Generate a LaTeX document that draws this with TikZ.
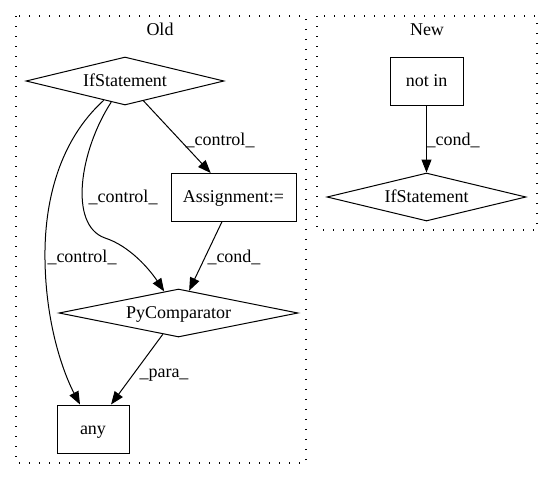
\documentclass[tikz,border=0pt]{standalone}
\usepackage{fontspec}
\setmainfont{Liberation Serif}
\usetikzlibrary{arrows.meta,shapes.geometric}
\tikzset{>={Triangle[length=13pt,width=10pt]}}
\tikzset{
  box/.style={draw,rectangle,line width=1pt,minimum height=48pt,inner sep=2pt,text height=13pt,text depth=3pt},
  cond/.style={draw,diamond,aspect=4,line width=1pt,minimum height=48pt,inner sep=1pt,text height=13pt,text depth=3pt},
  lbl/.style={anchor=base,inner sep=0pt},
  cluster/.style={line width=1.2pt,dash pattern=on 1.4pt off 8.6pt},
  flow/.style={->,line width=1pt}
}

\begin{document}
\begin{tikzpicture}[x=1pt,y=-1pt,font=\fontsize{18}{20}\selectfont]
    \useasboundingbox (0,0) rectangle (552,480);
    % clusters
    \draw[cluster] (16,16) rectangle (306,463);
    \draw[cluster] (317,16) rectangle (537,230);
    \node[lbl] (told) at (160,35) {Old};
    \node[lbl] (tnew) at (427,35) {New};
    % old
    \node[cond,minimum width=198pt] (ifold) at (125,81) {IfStatement};
    \node[box,minimum width=125pt] (assign) at (233.5,197.5) {Assignment:=};
    \node[cond,minimum width=239pt] (pycomp) at (178.5,313) {PyComparator};
    \node[box,minimum width=72pt] (any) at (93,429) {any};
    \draw[flow] (ifold) -- (assign);
    \draw[flow] (ifold) .. controls (80,150) and (68,225) .. (105,238) .. controls (130,246) and (150,270) .. (pycomp);
    \draw[flow] (ifold) .. controls (60,140) and (44,200) .. (45,260) .. controls (46,330) and (66,378) .. (any);
    \draw[flow] (assign) -- (pycomp);
    \draw[flow] (pycomp) -- (any);
    \node[lbl] (lctrla) at (220,145) {\_control\_};
    \node[lbl] (lctrlb) at (123,202) {\_control\_};
    \node[lbl] (lctrlc) at (82,262) {\_control\_};
    \node[lbl] (lconda) at (234,262) {\_cond\_};
    \node[lbl] (lpara) at (164,377) {\_para\_};
    % new
    \node[box,minimum width=73pt] (notin) at (426.5,81) {not in};
    \node[cond,minimum width=199pt] (ifnew) at (426.5,197) {IfStatement};
    \draw[flow] (notin) -- (ifnew);
    \node[lbl] (lcondb) at (453,145) {\_cond\_};
\end{tikzpicture}
\end{document}
